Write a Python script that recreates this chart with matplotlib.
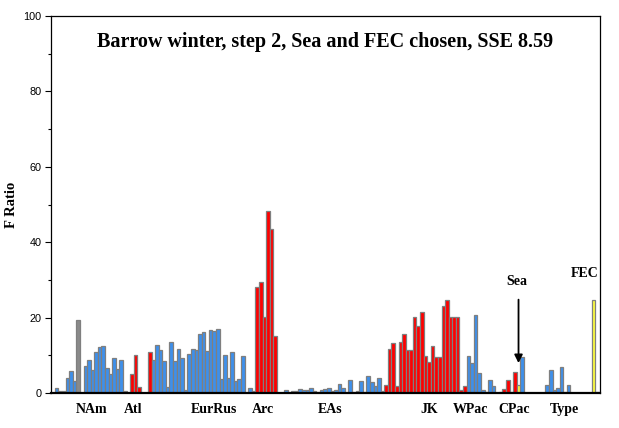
import matplotlib
matplotlib.use('Agg')
import matplotlib.pyplot as plt

title = 'Barrow winter, step 2, Sea and FEC chosen, SSE 8.59'

# F ratio of every predictor slot, left to right (0.0 where the slot is empty)
f_ratio = [
    1.25, 0.5, 0.5, 3.9, 5.8, 3.2, 19.4, 0.0,                       # NAm
    7.2, 8.75, 6.1, 10.8, 12.1, 12.5, 6.5, 5.0, 9.2, 6.3, 8.7,
    0.5, 0.0, 5.0, 10.1, 1.6, 0.0, 0.0, 10.8,                       # Atl
    8.75, 12.7, 11.4, 8.5, 1.5, 13.4, 8.5, 11.8, 9.2, 0.8, 10.3,    # EurRus
    11.6, 11.3, 15.6, 16.1, 11.1, 16.7, 16.4, 16.9, 3.7, 10.1, 3.9,
    10.8, 3.2, 3.7, 9.7, 0.0,
    1.2, 0.5, 28.0, 29.4, 20.2, 48.2, 43.4, 15.1, 0.0, 0.0,         # Arc
    0.8, 0.0, 0.5, 0.5, 1.0, 0.8, 0.8, 1.2, 0.6, 0.3, 0.8, 1.0,     # EAs
    1.2, 0.6, 0.8, 2.3, 1.2, 0.0,
    3.4, 0.3, 0.5, 3.2, 0.3, 4.5, 2.8, 1.9, 3.9, 0.5,
    2.1, 11.8, 13.3, 1.8, 13.5, 15.6, 11.3, 11.3, 20.1, 17.7,       # JK
    21.4, 9.7, 8.2, 12.4, 9.5, 9.5, 23.1, 24.6, 20.1, 20.1, 20.1,
    0.8, 1.8,
    9.7, 8.0, 20.7, 5.3, 0.8, 0.3, 3.4, 1.9, 0.0,                   # WPac
    0.3, 1.1, 3.4, 0.2, 5.6, 2.1, 9.5,                              # CPac
    0.0, 0.0, 0.0, 0.0, 0.0, 0.0,
    2.1, 6.1, 0.8, 1.3, 6.9, 0.2, 2.1,                              # Type
    0.0, 0.0, 0.0, 0.0, 0.0, 0.0,
    24.7, 0.2,                                                      # FEC
]

# b = candidate, r = significant, g = excluded, y = chosen, - = empty
kind = ('bbbbbbg-' 'bbbbbbbbbbb'
        'r-rrr--r'
        'bbbbbbbbbbbbbbbbbbbbbbbbbb-'
        'bbrrrrrr--'
        'b-bbbbbbbbbbbbbbb-'
        'bbbbbbbbbb'
        'rrrrrrrrrrrrrrrrrrrrrrr'
        'bbbbbgbb-'
        'grrgryb'
        '------'
        'bbbbbgb'
        '------'
        'yg')

group_names = ['NAm', 'Atl', 'EurRus', 'Arc', 'EAs', 'JK', 'WPac', 'CPac', 'Type']
group_centres = [9.7, 21.3, 43.8, 57.5, 76.3, 104.0, 115.5, 127.7, 141.9]

colours = {'b': '#3d90ec', 'r': '#ff0000', 'g': '#8a8a8a', 'y': '#ffff40'}

assert len(f_ratio) == len(kind)

fig = plt.figure(figsize=(6.19, 4.28), dpi=100)
ax = fig.add_axes([51 / 619, 35 / 428, 549 / 619, 377 / 428])

xs = [i for i, k in enumerate(kind) if k != '-']
ax.bar(xs, [f_ratio[i] for i in xs], width=1.0,
       color=[colours[kind[i]] for i in xs],
       edgecolor='#7f7f7f', linewidth=0.9, zorder=2)

ax.set_xlim(-1.59, 151.76)
ax.set_ylim(0, 100)
ax.set_yticks(range(0, 101, 20))
ax.set_yticks(range(10, 100, 20), minor=True)
ax.tick_params(axis='y', which='major', length=4, width=0.8, labelsize=7.8, pad=3)
ax.tick_params(axis='y', which='minor', length=2, width=0.8)
for lab in ax.get_yticklabels():
    lab.set_family('Liberation Sans')

ax.set_xticks(group_centres)
ax.set_xticklabels(group_names, family='Liberation Serif', fontweight='bold', fontsize=10)
ax.tick_params(axis='x', length=0, pad=7)

for side in ['left', 'right', 'top']:
    ax.spines[side].set_linewidth(0.9)
ax.spines['bottom'].set_linewidth(1.6)

ax.set_ylabel('F Ratio', family='Liberation Serif', fontweight='bold', fontsize=10.5)
ax.yaxis.set_label_coords(-0.061, 0.5)

ax.text(0.5, 0.93, title, transform=ax.transAxes, ha='center', va='center',
        family='Liberation Serif', fontweight='bold', fontsize=14.5)

# mark the two chosen predictors
sea = kind.index('y')
fec = kind.rindex('y')
ax.annotate('', xy=(sea, 7.2), xytext=(sea, 25.5),
            arrowprops=dict(arrowstyle='-|>', color='black', lw=1.3, mutation_scale=12))
ax.text(sea - 0.4, 29.7, 'Sea', ha='center', va='center',
        family='Liberation Serif', fontweight='bold', fontsize=10)
ax.text(fec - 2.5, 31.8, 'FEC', ha='center', va='center',
        family='Liberation Serif', fontweight='bold', fontsize=10)

fig.savefig('out.png', dpi=100)
